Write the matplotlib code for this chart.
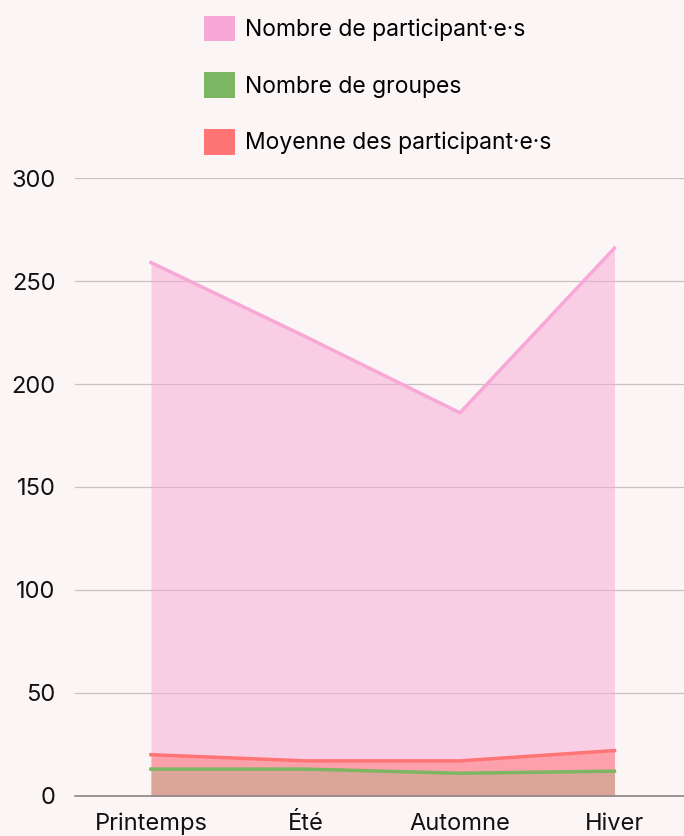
import matplotlib.pyplot as plt
from matplotlib.patches import Patch

saisons = ['Printemps', 'Été', 'Automne', 'Hiver']
participants = [259, 223, 186, 266]
groupes = [13, 13, 11, 12]
moyenne = [20, 17, 17, 22]
y_ticks = [0, 50, 100, 150, 200, 250, 300]

bg = '#fcf5f5'
c_part = '#f7a8d6'
c_grp = '#7db662'
c_moy = '#ff7474'

plt.rcParams['font.family'] = ['Inter', 'DejaVu Sans']

fig = plt.figure(figsize=(6.84, 8.36), dpi=100, facecolor=bg)
ax = fig.add_axes([0.11, 0.048, 0.89, 0.739], facecolor=bg)

x = list(range(len(saisons)))
ax.fill_between(x, participants, color=c_part, alpha=0.5, lw=0)
ax.plot(x, participants, color=c_part, lw=2.5)
ax.fill_between(x, moyenne, color=c_moy, alpha=0.5, lw=0)
ax.plot(x, moyenne, color=c_moy, lw=2.5)
ax.fill_between(x, groupes, color=c_grp, alpha=0.25, lw=0)
ax.plot(x, groupes, color=c_grp, lw=2.5)

ax.set_xlim(-0.49, 3.45)
ax.set_ylim(0, 300)
ax.set_xticks(x)
ax.set_xticklabels(saisons)
ax.set_yticks(y_ticks)
ax.tick_params(length=0, labelsize=17, colors='#111111')
ax.tick_params(axis='x', pad=12)
ax.tick_params(axis='y', pad=14)
ax.grid(axis='y', color='#c9c1c1', lw=0.9)
ax.set_axisbelow(True)
for s in ['left', 'right', 'top']:
    ax.spines[s].set_visible(False)
ax.spines['bottom'].set_color('#8a8585')
ax.spines['bottom'].set_linewidth(1.2)

handles = [Patch(facecolor=c_part, edgecolor='none', label='Nombre de participant·e·s'),
           Patch(facecolor=c_grp, edgecolor='none', label='Nombre de groupes'),
           Patch(facecolor=c_moy, edgecolor='none', label='Moyenne des participant·e·s')]
fig.legend(handles=handles, loc='upper left', bbox_to_anchor=(0.268, 1.006),
           frameon=False, fontsize=16.5, handlelength=1.35, handleheight=1.35,
           labelspacing=1.35, handletextpad=0.45)

fig.savefig('out.png', dpi=100, facecolor=bg)
